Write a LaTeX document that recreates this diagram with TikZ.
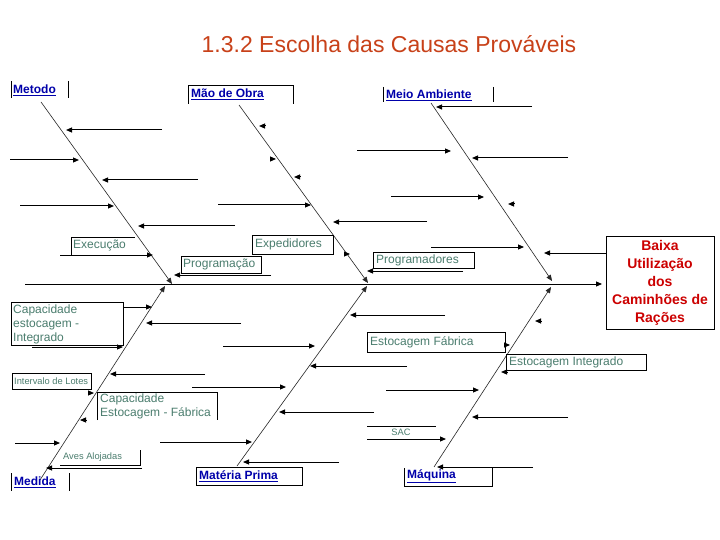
\documentclass[tikz,border=0pt]{standalone}
\usepackage{fontspec}
\setmainfont{Liberation Sans}
\usetikzlibrary{arrows.meta}
\definecolor{ttl}{RGB}{200,65,25}
\definecolor{catblue}{RGB}{0,0,170}
\definecolor{subc}{RGB}{75,125,110}
\definecolor{effred}{RGB}{204,0,0}
\newcommand\harrow[5]{\coordinate (#1a) at (#2,#3); \coordinate (#1b) at (#4,#5); \draw[arr] (#1a) -- (#1b);}
\newcommand\tipR[3]{\coordinate (#1a) at (#2-6,#3); \coordinate (#1b) at (#2,#3); \draw[arr] (#1a) -- (#1b);}
\newcommand\tipL[3]{\coordinate (#1a) at (#2+6,#3); \coordinate (#1b) at (#2,#3); \draw[arr] (#1a) -- (#1b);}
\begin{document}
\begin{tikzpicture}[x=1pt,y=-1pt,
  arr/.style={line width=1pt,-{Triangle[length=6pt,width=5pt]}},
  bone/.style={draw=black!85,line width=0.6pt,-{Triangle[length=6pt,width=5pt]}},
  frame/.style={draw=black,line width=0.9pt},
  cat/.style={inner sep=0pt,anchor=west,text=catblue,font=\fontsize{12}{14}\selectfont\bfseries},
  sub/.style={inner sep=0pt,anchor=west,text=subc,align=left,font=\fontsize{12}{14}\selectfont},
  subsmall/.style={inner sep=0pt,anchor=west,text=subc,font=\fontsize{9.3}{11}\selectfont}]
\useasboundingbox (0,0) rectangle (720,540);
\fill[white] (0,0) rectangle (720,540);
% title
\node[inner sep=0pt,text=ttl,font=\fontsize{23}{26}\selectfont] (title) at (389,44) {1.3.2 Escolha das Causas Prováveis};
% effect box
\node[frame,minimum width=108pt,minimum height=93pt,inner sep=0pt,text=effred,align=center,
  font=\fontsize{14}{18}\selectfont\bfseries] (eff) at (660,282.5)
  {Baixa\\Utilização\\dos\\Caminhões de\\Rações};
% spine
\coordinate (sp0) at (25,284);
\coordinate (sp1) at (602,284);
\draw[arr] (sp0) -- (sp1);
% bones
\coordinate (b1a) at (41,102);  \coordinate (b1b) at (172,284);
\coordinate (b2a) at (239,105); \coordinate (b2b) at (368,283);
\coordinate (b3a) at (431,103); \coordinate (b3b) at (552,281);
\coordinate (b4a) at (40,480);  \coordinate (b4b) at (165,286);
\coordinate (b5a) at (237,466); \coordinate (b5b) at (367,286);
\coordinate (b6a) at (434,467); \coordinate (b6b) at (551,287);
\draw[bone] (b1a) -- (b1b);
\draw[bone] (b2a) -- (b2b);
\draw[bone] (b3a) -- (b3b);
\draw[bone] (b4a) -- (b4b);
\draw[bone] (b5a) -- (b5b);
\draw[bone] (b6a) -- (b6b);
% category labels
\node[cat] (metodo) at (13,90) {\underline{Metodo}};
\draw[frame] (11,81) -- (11,98) (68,81) -- (68,98);
\node[cat] (maoobra) at (191,94) {\underline{Mão de Obra}};
\draw[frame] (188,104) -- (188,85) -- (293,85) -- (293,104);
\node[cat] (meio) at (386,95) {\underline{Meio Ambiente}};
\draw[frame] (383,87) -- (383,102) (493,87) -- (493,102);
\node[cat] (medida) at (14,482) {\underline{Medida}};
\draw[frame] (11,473) -- (11,491) (69,473) -- (69,491);
\node[cat] (materia) at (199,476) {\underline{Matéria Prima}};
\draw[frame] (196,467) rectangle (302,485);
\node[cat] (maquina) at (407,476) {\underline{Máquina}};
\draw[frame] (404,468) -- (404,486) -- (492,486) -- (492,468);
% sub-cause labels
\node[sub] (exec) at (73,245) {Execução};
\draw[frame] (71,255) -- (71,237) -- (135,237);
\node[sub] (exped) at (255,244.5) {Expedidores};
\draw[frame] (252,235) rectangle (333,254);
\node[sub] (progm) at (183,264.5) {Programação};
\draw[frame] (181,256) rectangle (261,273);
\node[sub] (progd) at (376,260) {Programadores};
\draw[frame] (373,252) rectangle (474,268);
\node[sub] (capint) at (13,324) {Capacidade\\estocagem -\\Integrado};
\draw[frame] (11,302) rectangle (123,345);
\node[subsmall] (intlot) at (14,381) {Intervalo de Lotes};
\draw[frame] (12,373) rectangle (91,389);
\node[sub] (capfab) at (100,406) {Capacidade\\Estocagem - Fábrica};
\draw[frame] (97,420) -- (97,392) -- (217,392) -- (217,420);
\node[sub] (estfab) at (370,342) {Estocagem Fábrica};
\draw[frame] (367,332) rectangle (505,352);
\node[sub] (estint) at (509,362) {Estocagem Integrado};
\draw[frame] (506,354) rectangle (646,370);
\node[subsmall] (aves) at (63,457) {Aves Alojadas};
\draw[frame] (60,465) -- (140,465) -- (140,450);
\node[subsmall,anchor=center] (sac) at (401,432) {SAC};
\coordinate (sacl) at (367,426); \coordinate (sacr) at (436,426);
\draw[frame] (sacl) -- (sacr);
% Metodo causes
\harrow{M1}{162}{130}{66}{130}
\harrow{M2}{10}{160}{79}{160}
\harrow{M3}{198}{180}{102}{180}
\harrow{M4}{20}{206}{114}{206}
\harrow{M5}{235}{226}{138}{226}
\harrow{M6}{60}{255}{153}{255}
% Mao de Obra causes
\tipL{O1}{259}{126}
\tipR{O2}{276}{159}
\tipL{O3}{294}{177}
\harrow{O4}{218}{205}{311}{205}
\harrow{O5}{427}{222}{333}{222}
\tipR{O6}{350}{254}
\harrow{O7}{271}{275}{174}{275}
% Meio Ambiente causes
\harrow{A1}{532}{107}{436}{107}
\harrow{A2}{357}{151}{451}{151}
\harrow{A3}{568}{158}{472}{158}
\harrow{A4}{391}{197}{484}{197}
\tipL{A5}{508}{204}
\harrow{A6}{431}{247}{524}{247}
\coordinate (A7a) at (eff.west |- 0,253); \coordinate (A7b) at (544,253);
\draw[arr] (A7a) -- (A7b);
\harrow{A8}{463}{271}{367}{271}
% Medida causes
\harrow{D1}{123}{307}{152}{307}
\harrow{D2}{241}{323}{146}{323}
\harrow{D3}{32}{347}{123}{347}
\harrow{D4}{205}{374}{110}{374}
\tipR{D5}{94}{393}
\tipL{D6}{80}{420}
\harrow{D7}{15}{443}{60}{443}
\harrow{D8}{142}{468}{46}{468}
% Materia Prima causes
\harrow{P1}{445}{315}{350}{315}
\harrow{P2}{223}{346}{315}{346}
\harrow{P3}{407}{366}{310}{366}
\harrow{P4}{192}{387}{286}{387}
\harrow{P5}{374}{412}{279}{412}
\harrow{P6}{160}{442}{252}{442}
\harrow{P7}{339}{462}{243}{462}
% Maquina causes
\tipL{Q1}{535}{321}
\tipR{Q2}{510}{345}
\tipL{Q3}{501}{372}
\harrow{Q4}{386}{390}{479}{390}
\harrow{Q5}{568}{417}{472}{417}
\harrow{Q6}{367}{439}{446}{439}
\harrow{Q7}{533}{467}{437}{467}
\end{tikzpicture}
\end{document}
